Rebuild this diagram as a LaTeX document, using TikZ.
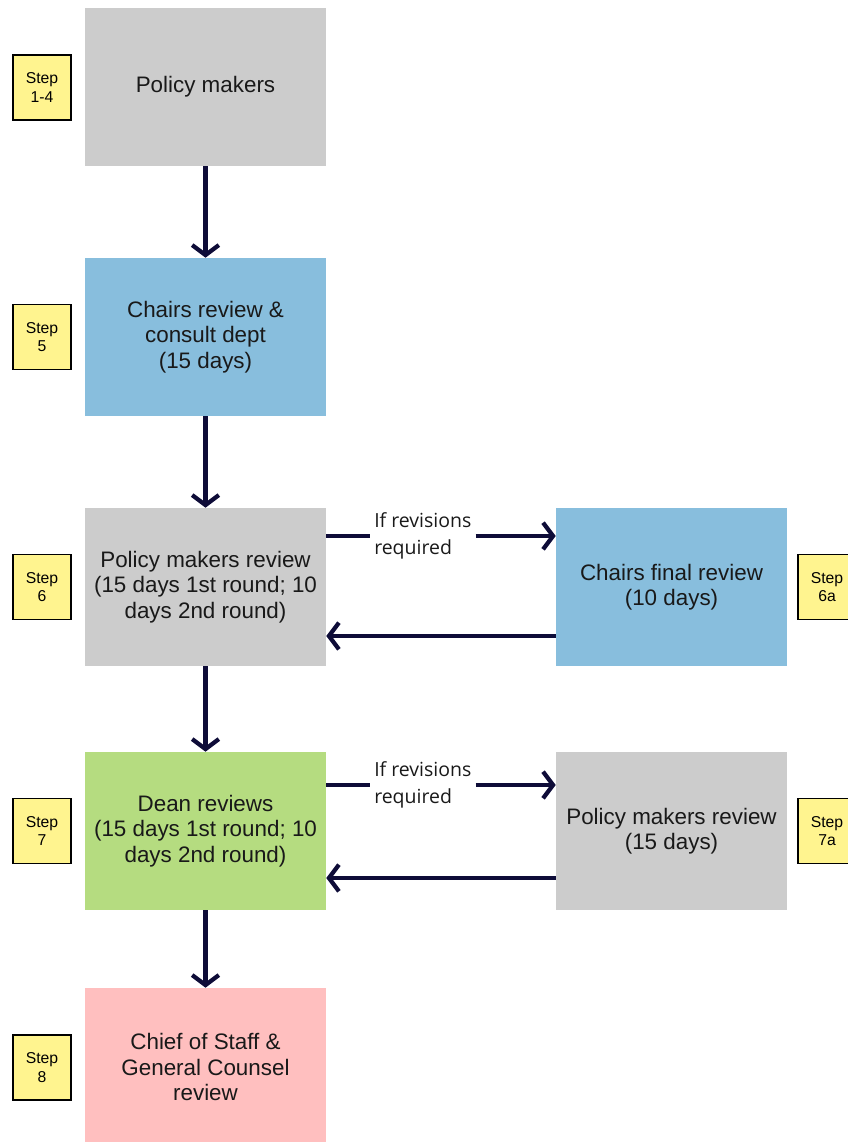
\documentclass[tikz,border=0pt]{standalone}
\usepackage{fontspec}
\setmainfont{Liberation Sans}
\newfontfamily\labelfont{Open Sans}
\usetikzlibrary{arrows.meta}
\definecolor{boxgray}{RGB}{204,204,204}
\definecolor{boxblue}{RGB}{136,190,221}
\definecolor{boxgreen}{RGB}{181,220,128}
\definecolor{boxpink}{RGB}{255,191,191}
\definecolor{stepyellow}{RGB}{255,244,143}
\definecolor{arrownavy}{RGB}{14,12,56}
\begin{document}
\begin{tikzpicture}[x=0.75pt,y=-0.75pt,
  box/.style={draw=none, minimum width=180.75pt, minimum height=118.5pt, align=center,
    font=\fontsize{16.8}{19.1}\selectfont, inner sep=0pt, text=black!90},
  stepbox/.style={draw=black, line width=0.8pt, fill=stepyellow, minimum width=43.5pt,
    minimum height=48.75pt, align=center, font=\fontsize{11.8}{13.8}\selectfont, inner sep=0pt},
  conn/.style={draw=arrownavy, line width=3.2pt},
  arr/.style={conn, -{Straight Barb[length=7.5pt,width=20pt]}},
  lbl/.style={font=\labelfont\fontsize{14.6}{20.25}\selectfont, align=left, anchor=west,
    inner xsep=3pt, inner ysep=0pt, text=black!90}
]
\useasboundingbox (0,0) rectangle (847,1142);

% main column
\node[box, fill=boxgray]  (b1) at (205.5,87)   {Policy makers};
\node[box, fill=boxblue]  (b2) at (205.5,337)  {Chairs review \&\\consult dept\\(15 days)};
\node[box, fill=boxgray]  (b3) at (205.5,587)  {Policy makers review\\(15 days 1st round; 10\\days 2nd round)};
\node[box, fill=boxgreen] (b4) at (205.5,831)  {Dean reviews\\(15 days 1st round; 10\\days 2nd round)};
\node[box, fill=boxpink]  (b5) at (205.5,1067) {Chief of Staff \&\\General Counsel\\review};

% right column
\node[box, minimum width=173.25pt, fill=boxblue] (b6) at (671.5,587) {Chairs final review\\(10 days)};
\node[box, minimum width=173.25pt, fill=boxgray] (b7) at (671.5,831) {Policy makers review\\(15 days)};

% step labels
\node[stepbox] (s1) at (42,87.5)  {Step\\1-4};
\node[stepbox] (s2) at (42,337)   {Step\\5};
\node[stepbox] (s3) at (42,587)   {Step\\6};
\node[stepbox] (s4) at (42,831)   {Step\\7};
\node[stepbox] (s5) at (42,1067.5){Step\\8};
\node[stepbox] (s6) at (827,587)  {Step\\6a};
\node[stepbox] (s7) at (827,831)  {Step\\7a};

% vertical arrows
\draw[arr] (b1.south) -- (b2.north);
\draw[arr] (b2.south) -- (b3.north);
\draw[arr] (b3.south) -- (b4.north);
\draw[arr] (b4.south) -- (b5.north);

% row 6 loop
\coordinate (a1) at ([shift={(0,-51)}]b3.east);
\node[lbl] (l1) at (370,535.5) {If revisions\\required};
\draw[conn] (a1) -- (a1 -| l1.west);
\draw[arr] (a1 -| l1.east) -- (a1 -| b6.west);
\coordinate (a2) at ([shift={(0,49)}]b6.west);
\draw[arr] (a2) -- (a2 -| b3.east);

% row 7 loop
\coordinate (a3) at ([shift={(0,-46)}]b4.east);
\node[lbl] (l2) at (370,785) {If revisions\\required};
\draw[conn] (a3) -- (a3 -| l2.west);
\draw[arr] (a3 -| l2.east) -- (a3 -| b7.west);
\coordinate (a4) at ([shift={(0,47)}]b7.west);
\draw[arr] (a4) -- (a4 -| b4.east);
\end{tikzpicture}
\end{document}
